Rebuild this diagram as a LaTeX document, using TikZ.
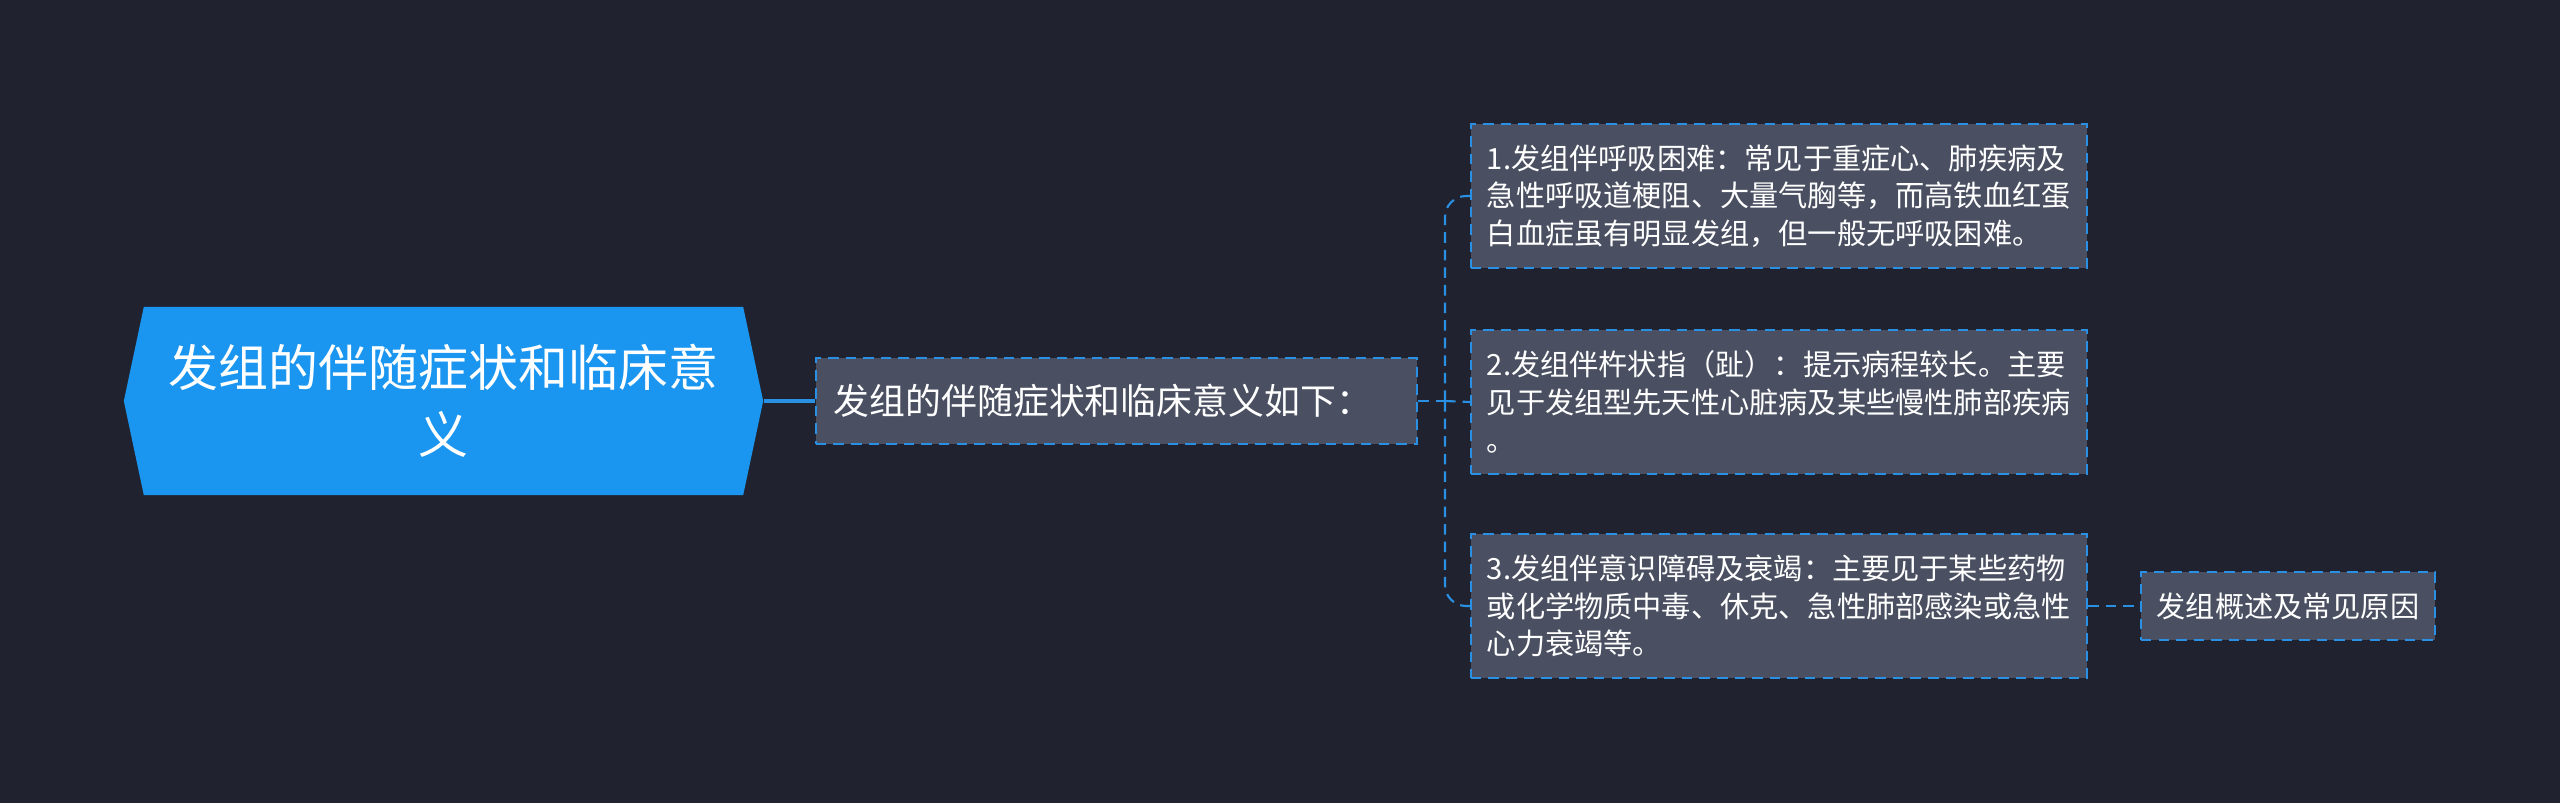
\documentclass[tikz,border=0pt]{standalone}
\usepackage{fontspec}
\setmainfont{Noto Sans CJK SC}
\usetikzlibrary{shapes.symbols,%
                positioning}
\definecolor{bgdark}{HTML}{20232F}
\definecolor{rootblue}{HTML}{1A96F0}
\definecolor{boxgray}{HTML}{4A5061}
\definecolor{linkblue}{HTML}{2A90E4}

\begin{document}
\begin{tikzpicture}[x=0.01cm,y=-0.01cm]
\tikzstyle{topic}=[shape=signal,signal to=west and east,signal pointer angle=156,fill=rootblue,text=white,font=\fontsize{14.2}{19}\selectfont,minimum width=6.39cm,minimum height=1.88cm,text width=5.7cm,align=center,inner sep=0pt]
\tikzstyle{card}=[draw=linkblue,fill=boxgray,dashed,dash pattern=on 3pt off 2pt,line width=0.6pt,text=white,inner sep=0.16cm]
\tikzstyle{detail}=[card,font=\fontsize{8.3}{10.7}\selectfont,text width=5.84cm,minimum height=1.44cm,align=left]
\tikzstyle{link}=[draw=linkblue,line width=0.6pt,dash pattern=on 3pt off 2pt]

\fill[bgdark] (0,0) rectangle (2560,803);
\useasboundingbox (0,0) rectangle (2560,803);

\draw (443.5,401) node[topic] (root) {发组的伴随症状和临床意\\义};
\draw (1116.5,401) node[card,font=\fontsize{10.2}{13}\selectfont,minimum width=6.01cm,minimum height=0.86cm,inner xsep=0.18cm,text width=5.65cm,align=left] (sum) {发组的伴随症状和临床意义如下：};
\draw (1779,196) node[detail] (d1) {1.发组伴呼吸困难：常见于重症心、肺疾病及\\急性呼吸道梗阻、大量气胸等，而高铁血红蛋\\白血症虽有明显发组，但一般无呼吸困难。};
\draw (1779,402) node[detail] (d2) {2.发组伴杵状指（趾）：提示病程较长。主要\\见于发组型先天性心脏病及某些慢性肺部疾病\\。};
\draw (1779,606) node[detail] (d3) {3.发组伴意识障碍及衰竭：主要见于某些药物\\或化学物质中毒、休克、急性肺部感染或急性\\心力衰竭等。};
\draw (2288,606) node[card,font=\fontsize{8.3}{10.7}\selectfont,minimum width=2.94cm,minimum height=0.68cm,inner xsep=0.14cm] (cause) {发组概述及常见原因};

\coordinate (fork) at (1445,401);

\draw[linkblue,line width=1pt] (root.east) -- (sum.west);
\path[link] (sum.east) -- (fork);
\path[link,rounded corners=6pt] (fork) |- (d1.west);
\path[link] (fork) -- (d2.west);
\path[link,rounded corners=6pt] (fork) |- (d3.west);
\path[link] (d3.east) -- (cause.west);
\end{tikzpicture}
\end{document}
